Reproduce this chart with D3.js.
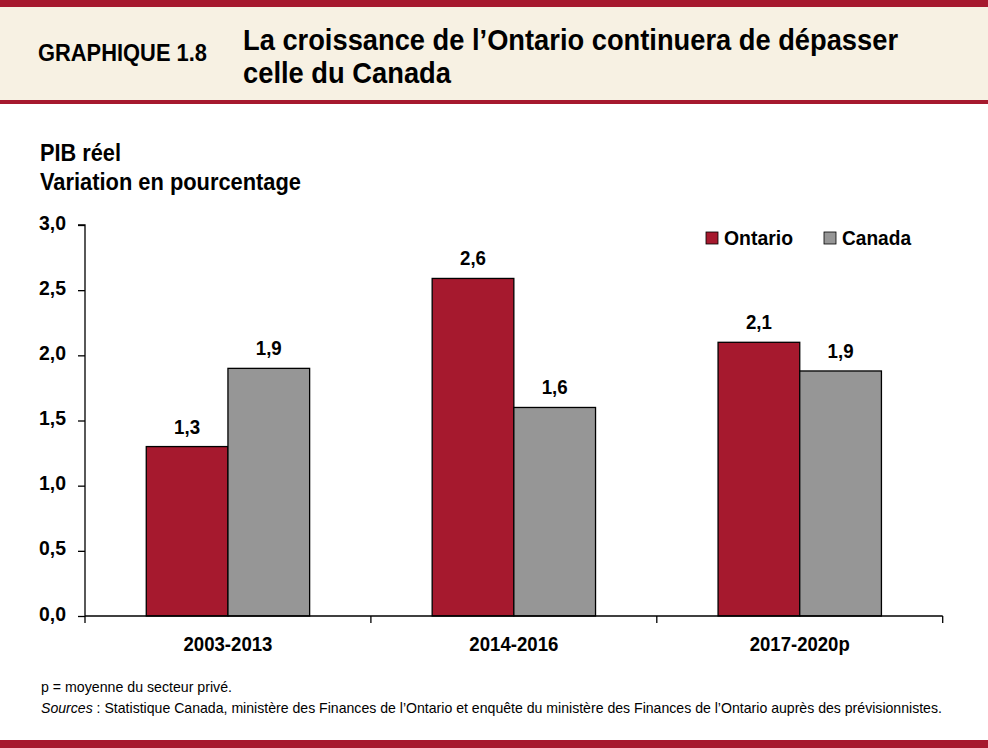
<!DOCTYPE html>
<html><head><meta charset="utf-8">
<script src="https://cdn.jsdelivr.net/npm/d3@7"></script>
<style>body{margin:0;background:#fff}svg{display:block}</style>
</head><body>
<svg id="c" width="988" height="748"></svg>
<script>
const categories = ["2003-2013", "2014-2016", "2017-2020p"];
const seriesNames = ["Ontario", "Canada"];
const ontario = [1.3, 2.59, 2.1];
const canada = [1.9, 1.6, 1.88];
const yTicks = [0, 0.5, 1.0, 1.5, 2.0, 2.5, 3.0];
const colors = {Ontario: "#a6192e", Canada: "#969696"};

const FONT = "'Liberation Sans Narrow','Arial Narrow','Liberation Sans',Arial,sans-serif";
const RED = "#a6192e";
const svg = d3.select("#c");

// compress text horizontally to a given width
function fit(sel, w) {
  sel.attr("textLength", w).attr("lengthAdjust", "spacingAndGlyphs");
  return sel;
}

// header
svg.append("rect").attr("x",0).attr("y",0).attr("width",988).attr("height",101).attr("fill","#f7f1e3");
svg.append("rect").attr("x",0).attr("y",0).attr("width",988).attr("height",7).attr("fill",RED);
svg.append("rect").attr("x",0).attr("y",100).attr("width",988).attr("height",4).attr("fill",RED);
svg.append("rect").attr("x",0).attr("y",740).attr("width",988).attr("height",8).attr("fill",RED);

fit(svg.append("text").attr("x",38).attr("y",61).attr("font-family",FONT).attr("font-weight","bold")
  .attr("font-size",24).attr("fill","#000").text("GRAPHIQUE 1.8"), 169);
fit(svg.append("text").attr("x",243).attr("y",50).attr("font-family",FONT).attr("font-weight","bold")
  .attr("font-size",30).attr("fill","#000").text("La croissance de l’Ontario continuera de dépasser"), 655);
fit(svg.append("text").attr("x",243).attr("y",83).attr("font-family",FONT).attr("font-weight","bold")
  .attr("font-size",30).attr("fill","#000").text("celle du Canada"), 208);

// y title
fit(svg.append("text").attr("x",40).attr("y",161).attr("font-family",FONT).attr("font-weight","bold")
  .attr("font-size",23).text("PIB réel"), 81);
fit(svg.append("text").attr("x",40).attr("y",190).attr("font-family",FONT).attr("font-weight","bold")
  .attr("font-size",23).text("Variation en pourcentage"), 261);

const x0 = 85, x1 = 942.7, yTop = 225, yBot = 616;
const x = d3.scaleBand().domain(categories).range([x0, x1]).paddingInner(0).paddingOuter(0);
const xs = d3.scaleBand().domain(seriesNames).range([0, x.bandwidth()]).paddingInner(0).paddingOuter(0.75);
const y = d3.scaleLinear().domain([0, 3]).range([yBot, yTop]);
const fmt = v => d3.format(".1f")(v).replace(".", ",");

const g = svg.append("g");
const data = categories.map((c,i)=>({cat:c, vals:[{s:"Ontario",v:ontario[i]},{s:"Canada",v:canada[i]}]}));

const grp = g.selectAll("g.cat").data(data).join("g").attr("transform", d=>`translate(${x(d.cat)},0)`);
grp.selectAll("rect").data(d=>d.vals).join("rect")
  .attr("x", d=>xs(d.s)).attr("width", xs.bandwidth())
  .attr("y", d=>y(d.v)).attr("height", d=>y(0)-y(d.v))
  .attr("fill", d=>colors[d.s]).attr("stroke","#000").attr("stroke-width",1.3);
grp.selectAll("text").data(d=>d.vals).join("text")
  .attr("x", d=>xs(d.s)+xs.bandwidth()/2).attr("y", d=>y(d.v)-13)
  .attr("text-anchor","middle").attr("font-family",FONT).attr("font-weight","bold").attr("font-size",20)
  .attr("textLength", 26).attr("lengthAdjust","spacingAndGlyphs")
  .text(d=>fmt(d.v));

// y axis
const ya = svg.append("g").attr("transform",`translate(${x0},0)`)
  .call(d3.axisLeft(y).tickValues(yTicks).tickFormat(fmt).tickSize(7).tickPadding(12));
ya.select(".domain").attr("stroke","#000").attr("stroke-width",1.3).attr("d",`M-7,${yTop}H0V${yBot}`);
ya.selectAll(".tick line").attr("stroke","#000").attr("stroke-width",1.3);
ya.selectAll(".tick text").attr("font-family",FONT).attr("font-weight","bold").attr("font-size",20).attr("fill","#000").attr("dy","0.2em")
  .attr("textLength", 27).attr("lengthAdjust","spacingAndGlyphs");

// x axis
const xa = svg.append("g").attr("transform",`translate(0,${yBot})`)
  .call(d3.axisBottom(x).tickSize(0).tickPadding(21));
xa.select(".domain").attr("stroke","#000").attr("stroke-width",1.3).attr("d",`M${x0},0H${x1}`);
xa.selectAll(".tick text").attr("font-family",FONT).attr("font-weight","bold").attr("font-size",20).attr("fill","#000")
  .attr("textLength", d => d.length > 9 ? 100 : 89).attr("lengthAdjust","spacingAndGlyphs");
const bounds = categories.map(c=>x(c)).concat([x1]);
xa.selectAll("line.sep").data(bounds).join("line").attr("class","sep")
  .attr("x1",d=>d).attr("x2",d=>d).attr("y1",0).attr("y2",7).attr("stroke","#000").attr("stroke-width",1.3);

// legend
const leg = svg.append("g");
const legX = [706, 824];
const legW = [69, 69];
seriesNames.forEach((s,i)=>{
  leg.append("rect").attr("x",legX[i]).attr("y",232).attr("width",12).attr("height",12)
    .attr("fill",colors[s]).attr("stroke","#000").attr("stroke-width",0.8);
  fit(leg.append("text").attr("x",legX[i]+18).attr("y",245).attr("font-family",FONT).attr("font-weight","bold")
    .attr("font-size",21).text(s), legW[i]);
});

// footer
fit(svg.append("text").attr("x",41).attr("y",692).attr("font-family",FONT).attr("font-size",15).text("p = moyenne du secteur privé."), 191);
const src = svg.append("text").attr("x",41).attr("y",713).attr("font-family",FONT).attr("font-size",14.1);
src.append("tspan").attr("font-style","italic").text("Sources");
src.append("tspan").text(" : Statistique  Canada, ministère des Finances de l’Ontario et enquête du ministère des Finances de l’Ontario auprès des prévisionnistes.");
</script>
</body></html>
